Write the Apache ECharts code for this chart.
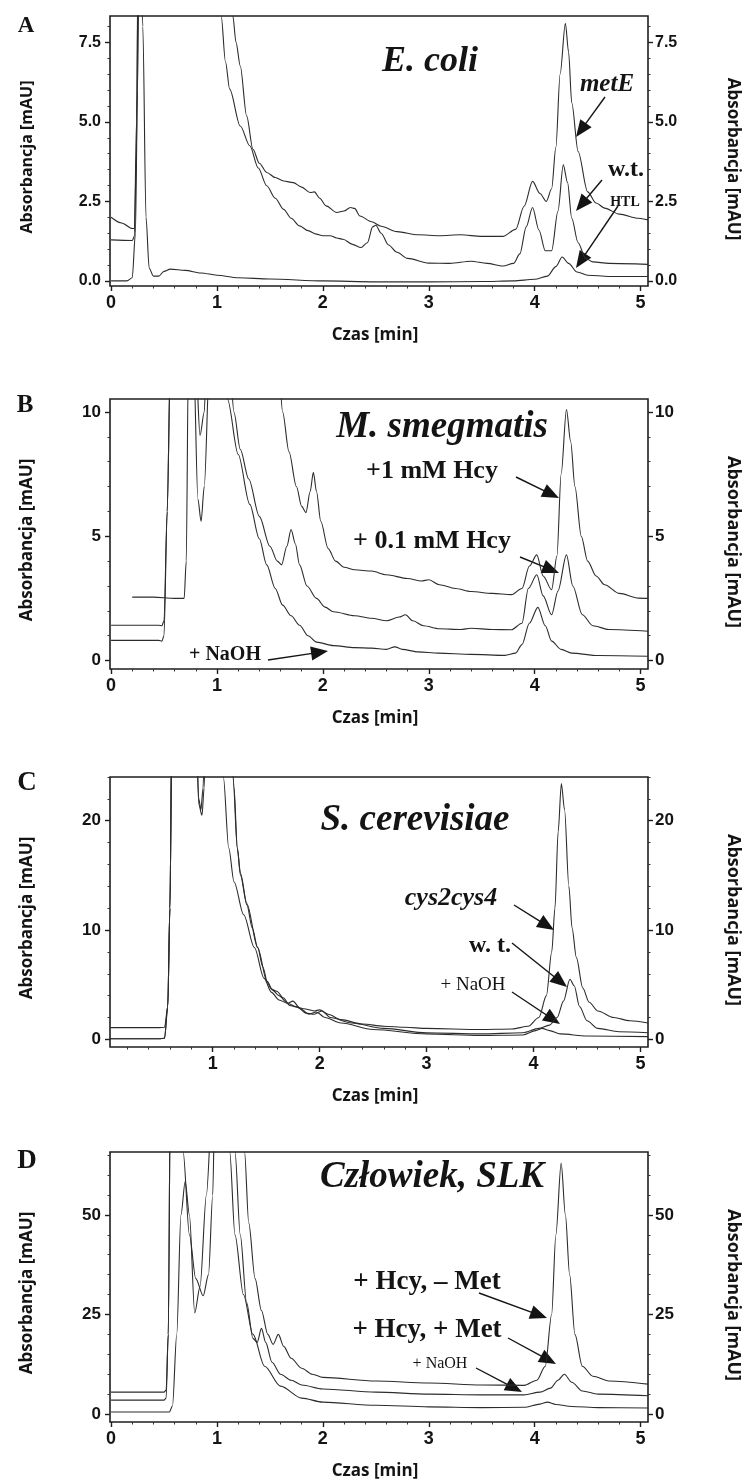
<!DOCTYPE html>
<html><head><meta charset="utf-8">
<script src="https://cdn.jsdelivr.net/npm/echarts@6/dist/echarts.min.js"></script>
<style>html,body{margin:0;padding:0;background:#fff}#c{width:744px;height:1484px}</style>
</head><body><div id="c"></div>
<script>
// ---------------- DATA (time [min], absorbance [mAU]) ----------------
// Panel A – E. coli
const ecoli_metE = [[0,2.0],[0.1,1.82],[0.2,1.65],[0.22,1.65],[0.24,4],[0.26,12],[1.1,12],[1.15,8.33],[1.18,7.5],[1.22,6.76],[1.28,5.19],[1.34,4.14],[1.4,3.7],[1.47,3.41],[1.55,3.25],[1.63,3.14],[1.72,3.09],[1.8,2.95],[1.88,2.78],[1.92,2.8],[1.97,2.6],[2.03,2.36],[2.13,2.15],[2.2,2.2],[2.26,2.31],[2.3,2.28],[2.35,2.04],[2.46,1.86],[2.55,1.72],[2.7,1.55],[2.9,1.45],[3.1,1.42],[3.3,1.45],[3.5,1.4],[3.7,1.4],[3.82,1.62],[3.9,2.35],[3.98,3.13],[4.05,2.75],[4.11,2.5],[4.16,2.9],[4.2,4.2],[4.24,6.5],[4.29,8.1],[4.32,7.2],[4.35,5.6],[4.41,4.07],[4.5,2.8],[4.58,2.45],[4.66,2.29],[4.8,2.1],[4.98,1.97],[5.07,1.92]];
const ecoli_wt = [[0,1.29],[0.2,1.27],[0.22,1.4],[0.24,5],[0.26,12],[1.0,12],[1.04,8.33],[1.08,6.9],[1.12,6.03],[1.22,4.87],[1.31,4.25],[1.39,3.55],[1.47,2.99],[1.55,2.6],[1.63,2.25],[1.7,1.97],[1.78,1.73],[1.86,1.58],[1.94,1.47],[2.0,1.42],[2.07,1.42],[2.13,1.35],[2.19,1.31],[2.28,1.15],[2.36,1.05],[2.42,1.2],[2.47,1.7],[2.5,1.75],[2.55,1.5],[2.62,1.13],[2.7,0.9],[2.8,0.71],[3.0,0.56],[3.2,0.55],[3.4,0.62],[3.55,0.55],[3.7,0.47],[3.8,0.55],[3.86,0.85],[3.92,1.7],[3.98,2.31],[4.04,1.6],[4.1,0.95],[4.16,0.95],[4.22,2.2],[4.27,3.65],[4.31,3.1],[4.35,1.97],[4.41,1.2],[4.48,0.71],[4.55,0.6],[4.7,0.55],[5.07,0.52]];
const ecoli_HTL = [[0,0.0],[0.15,0.0],[0.2,0.1],[0.23,1.5],[0.25,6],[0.27,12],[0.3,8],[0.33,2],[0.36,0.4],[0.4,0.15],[0.45,0.15],[0.5,0.3],[0.56,0.37],[0.7,0.33],[0.85,0.25],[1.0,0.18],[1.2,0.1],[1.5,0.06],[2.0,0.0],[2.5,-0.03],[3.0,-0.03],[3.5,-0.02],[3.8,0.0],[4.0,0.05],[4.12,0.15],[4.2,0.45],[4.26,0.75],[4.32,0.55],[4.4,0.28],[4.5,0.18],[4.7,0.14],[5.07,0.14]];
// Panel B – M. smegmatis
const smeg_1mM = [[0.2,2.55],[0.4,2.55],[0.6,2.5],[0.69,2.5],[0.71,4],[0.73,12],[1.58,12],[1.62,10.0],[1.68,8.4],[1.75,7.0],[1.8,6.2],[1.84,5.95],[1.88,6.8],[1.91,7.57],[1.94,6.8],[1.98,5.6],[2.05,4.5],[2.12,4.0],[2.2,3.75],[2.3,3.65],[2.46,3.6],[2.6,3.45],[2.8,3.3],[2.93,3.2],[3.0,3.25],[3.1,3.05],[3.25,2.9],[3.4,2.78],[3.6,2.7],[3.78,2.65],[3.88,2.9],[3.95,3.8],[4.02,4.25],[4.08,3.4],[4.16,2.85],[4.21,4.2],[4.25,7.5],[4.3,10.1],[4.34,8.8],[4.38,7.0],[4.44,5.0],[4.5,4.0],[4.58,3.4],[4.66,3.05],[4.8,2.7],[4.98,2.51],[5.07,2.5]];
const smeg_01mM = [[0,1.42],[0.45,1.42],[0.48,1.4],[0.5,1.6],[0.53,6],[0.56,12],[0.8,12],[0.84,9.05],[0.88,10],[0.9,12],[1.12,12],[1.16,10.0],[1.22,8.5],[1.3,7.3],[1.4,5.8],[1.5,4.6],[1.57,4.0],[1.61,3.85],[1.66,4.6],[1.7,5.27],[1.74,4.7],[1.78,3.85],[1.85,3.0],[1.94,2.5],[2.02,2.15],[2.1,1.96],[2.3,1.8],[2.46,1.7],[2.6,1.6],[2.72,1.75],[2.78,1.84],[2.85,1.6],[2.95,1.4],[3.1,1.28],[3.3,1.25],[3.4,1.3],[3.6,1.25],[3.78,1.24],[3.88,1.5],[3.94,2.9],[4.02,3.45],[4.08,2.6],[4.16,1.84],[4.22,2.8],[4.3,4.25],[4.36,3.0],[4.45,1.84],[4.55,1.4],[4.7,1.25],[5.07,1.18]];
const smeg_NaOH = [[0,0.81],[0.45,0.81],[0.48,0.78],[0.5,1.0],[0.53,6],[0.56,12],[0.78,12],[0.82,6.5],[0.85,5.6],[0.88,7],[0.93,12],[1.06,12],[1.1,10.5],[1.2,8.3],[1.31,6.28],[1.4,4.9],[1.47,3.85],[1.55,2.9],[1.62,2.23],[1.7,1.8],[1.78,1.42],[1.86,1.0],[1.94,0.74],[2.1,0.6],[2.3,0.52],[2.46,0.5],[2.6,0.45],[2.68,0.55],[2.75,0.45],[2.9,0.35],[3.09,0.3],[3.4,0.25],[3.72,0.21],[3.82,0.3],[3.88,0.64],[3.95,1.5],[4.03,2.14],[4.1,1.4],[4.16,0.78],[4.25,0.45],[4.35,0.3],[4.6,0.2],[5.07,0.17]];
// Panel C – S. cerevisiae
const cere_cys = [[0.04,1.07],[0.5,1.07],[0.55,1.1],[0.58,3],[0.6,12],[0.62,30],[0.84,30],[0.87,22],[0.89,21],[0.91,23],[0.93,30],[1.15,30],[1.19,24],[1.23,17.5],[1.26,15],[1.32,12.3],[1.37,10.2],[1.42,8.4],[1.47,6.6],[1.51,5.3],[1.56,4.5],[1.62,4.0],[1.7,3.3],[1.78,3.0],[1.85,2.8],[1.95,2.6],[2.0,2.7],[2.08,2.3],[2.2,1.8],[2.4,1.4],[2.6,1.2],[2.8,1.1],[3.0,1.0],[3.5,0.9],[3.8,0.95],[3.95,1.2],[4.05,2.0],[4.12,4.0],[4.17,8],[4.2,12],[4.23,19],[4.26,23.4],[4.29,21],[4.33,14],[4.36,10.2],[4.4,7.5],[4.46,4.7],[4.52,3.4],[4.6,2.6],[4.75,2.0],[4.9,1.7],[5.07,1.5]];
const cere_wt = [[0.04,0.05],[0.5,0.05],[0.55,0.1],[0.58,3],[0.6,12],[0.62,30],[0.84,30],[0.87,21.5],[0.9,20.5],[0.92,23],[0.94,30],[1.16,30],[1.2,23],[1.23,17.5],[1.26,15.2],[1.32,12.4],[1.42,8.4],[1.51,5.2],[1.55,4.6],[1.6,4.4],[1.66,3.8],[1.72,3.1],[1.8,2.9],[1.87,2.4],[1.95,2.3],[2.02,2.6],[2.1,2.0],[2.3,1.5],[2.6,1.0],[3.0,0.6],[3.5,0.5],[3.9,0.6],[4.05,1.0],[4.15,1.3],[4.22,2.0],[4.28,3.5],[4.34,5.5],[4.38,4.9],[4.43,3.0],[4.5,1.7],[4.6,1.0],[4.8,0.7],[5.07,0.6]];
const cere_NaOH = [[0.04,0.05],[0.5,0.05],[0.55,0.1],[0.58,3],[0.6,12],[0.62,30],[1.06,30],[1.1,24],[1.15,17.5],[1.2,14.4],[1.29,11.4],[1.39,8.4],[1.48,5.6],[1.55,4.3],[1.62,3.6],[1.7,3.3],[1.75,3.5],[1.82,2.8],[1.9,2.3],[1.97,2.5],[2.05,2.0],[2.2,1.5],[2.5,0.9],[3.0,0.5],[3.5,0.35],[3.9,0.4],[4.02,0.8],[4.08,1.0],[4.15,0.8],[4.25,0.5],[4.5,0.3],[5.07,0.25]];
// Panel D – Człowiek, SLK
const human_minusMet = [[0,5.5],[0.5,5.5],[0.52,6],[0.54,20],[0.56,80],[1.22,80],[1.26,66],[1.3,48],[1.36,34],[1.42,26],[1.48,20],[1.53,17.5],[1.58,20],[1.63,17],[1.7,14],[1.8,11.5],[1.9,10],[2.0,9.2],[2.5,8.3],[3.0,7.8],[3.5,7.3],[3.9,7.2],[4.02,8.5],[4.1,12],[4.16,25],[4.2,45],[4.25,63],[4.29,50],[4.33,35],[4.38,20],[4.45,12],[4.55,9.5],[4.7,8.3],[5.07,7.5]];
const human_plusMet = [[0,3.5],[0.5,3.5],[0.52,4],[0.54,20],[0.56,80],[0.65,80],[0.68,66],[0.74,45],[0.8,34],[0.87,29.7],[0.92,35],[0.96,55],[0.98,80],[1.13,80],[1.17,66],[1.22,45],[1.28,28],[1.34,19],[1.38,18],[1.42,21.5],[1.46,18],[1.52,13],[1.6,10],[1.7,8.5],[1.8,7.3],[2.0,6.3],[2.5,5.5],[3.0,5.0],[3.5,4.8],[3.9,4.8],[4.05,5.5],[4.15,6.5],[4.22,8.5],[4.28,10],[4.35,8],[4.45,5.8],[4.6,5.0],[5.07,4.6]];
const human_NaOH = [[0,0.5],[0.55,0.5],[0.58,2],[0.62,20],[0.66,50],[0.7,58.4],[0.74,50],[0.79,25.4],[0.84,32],[0.9,55],[0.96,80],[1.08,80],[1.12,66],[1.17,45],[1.25,30],[1.34,20],[1.45,12],[1.6,7],[1.8,4],[2.0,3],[2.5,2.2],[3.0,1.8],[3.5,1.6],[3.9,1.7],[4.05,2.5],[4.12,3.0],[4.2,2.4],[4.35,1.9],[4.6,1.6],[5.07,1.5]];

// tick labels
const xTicks = [0,1,2,3,4,5];
const xTicksC = [1,2,3,4,5];
const yTicksA = [0,2.5,5,7.5];
const yTicksB = [0,5,10];
const yTicksC = [0,10,20];
const yTicksD = [0,25,50];

// ---------------- STYLE / LAYOUT ----------------
const SANS = '"Liberation Sans", Arial, sans-serif';
const SERIF = '"Liberation Serif", "Times New Roman", serif';
const TITLE = '"Open Sans", sans-serif';
const INK = '#141414';
const TRACE = '#2c2c2c';

function minorList(min, max, step, majors) {
  const out = [];
  for (let v = Math.ceil(min / step) * step; v <= max + 1e-9; v += step) {
    const r = Math.round(v * 1000) / 1000;
    if (!majors.some(m => Math.abs(m - r) < 1e-6)) out.push(r);
  }
  return out;
}

const panels = [
  { top: 16, xmin: -0.01, xmax: 5.07, ymin: -0.16, ymax: 8.33, xt: xTicks, yt: yTicksA, ystep: 0.5, yfs: 16, fmt: v => v.toFixed(1), series: [ecoli_metE, ecoli_wt, ecoli_HTL] },
  { top: 399, xmin: -0.01, xmax: 5.07, ymin: -0.34, ymax: 10.52, xt: xTicks, yt: yTicksB, ystep: 1, yfs: 17, fmt: v => String(v), series: [smeg_1mM, smeg_01mM, smeg_NaOH] },
  { top: 777, xmin: 0.04, xmax: 5.07, ymin: -0.7, ymax: 24.0, xt: xTicksC, yt: yTicksC, ystep: 2, yfs: 17, fmt: v => String(v), series: [cere_cys, cere_wt, cere_NaOH] },
  { top: 1152, xmin: -0.01, xmax: 5.07, ymin: -2, ymax: 65.8, xt: xTicks, yt: yTicksD, ystep: 5, yfs: 17, fmt: v => String(v), series: [human_minusMet, human_plusMet, human_NaOH] }
];
const GRID_LEFT = 110, GRID_W = 538, GRID_H = 270;

const grid = [], xAxis = [], yAxis = [], series = [];
const noLine = { show: false, onZero: false };
const majorTickStyle = { color: '#1e1e1e', width: 1.4 };
const minorTickStyle = { color: '#333', width: 1 };

panels.forEach((p, i) => {
  grid.push({ left: GRID_LEFT, top: p.top, width: GRID_W, height: GRID_H, show: true, borderColor: '#1e1e1e', borderWidth: 1.6, backgroundColor: 'transparent', containLabel: false, outerBoundsMode: 'none' });
  const xMinor = minorList(Math.max(0, p.xmin), 5, 0.2, [0, 1, 2, 3, 4, 5]);
  xAxis.push({ gridIndex: i, type: 'value', min: p.xmin, max: p.xmax, position: 'bottom', axisLine: noLine, splitLine: { show: false },
    axisTick: { show: true, customValues: p.xt, length: 5, lineStyle: majorTickStyle },
    axisLabel: { show: true, customValues: p.xt, margin: 8, color: INK, fontFamily: SANS, fontWeight: 'bold', fontSize: 18, formatter: v => String(v) } });
  xAxis.push({ gridIndex: i, type: 'value', min: p.xmin, max: p.xmax, position: 'bottom', axisLine: noLine, splitLine: { show: false },
    axisTick: { show: true, customValues: xMinor, length: 2.5, lineStyle: minorTickStyle }, axisLabel: { show: false } });
  const yMinor = minorList(0, p.ymax, p.ystep, p.yt);
  ['left', 'right'].forEach(side => {
    yAxis.push({ gridIndex: i, type: 'value', min: p.ymin, max: p.ymax, position: side, axisLine: noLine, splitLine: { show: false },
      axisTick: { show: true, customValues: p.yt, length: 5, lineStyle: majorTickStyle },
      axisLabel: { show: true, customValues: p.yt, margin: side === 'left' ? 9 : 7, color: INK, fontFamily: SANS, fontWeight: 'bold', fontSize: p.yfs, formatter: p.fmt } });
    yAxis.push({ gridIndex: i, type: 'value', min: p.ymin, max: p.ymax, position: side, axisLine: noLine, splitLine: { show: false },
      axisTick: { show: true, customValues: yMinor, length: 2.5, lineStyle: minorTickStyle }, axisLabel: { show: false } });
  });
  p.series.forEach(d => {
    series.push({ type: 'line', xAxisIndex: 2 * i, yAxisIndex: 4 * i, data: d, symbol: 'none', showSymbol: false,
      smooth: 0.3, smoothMonotone: 'x', clip: true, silent: true,
      lineStyle: { color: TRACE, width: 1.1 } });
  });
});

// ---------------- ANNOTATIONS ----------------
const graphic = [];
function txt(x, y, text, o) {
  graphic.push({ type: 'text', x, y, rotation: o.rot || 0, silent: true,
    style: { text, fill: INK, align: 'center', verticalAlign: 'middle',
      fontFamily: o.ff || SERIF, fontSize: o.fs, fontWeight: o.fw || 'bold', fontStyle: o.it ? 'italic' : 'normal' } });
}
function arrow(x1, y1, x2, y2) {
  const dx = x2 - x1, dy = y2 - y1, L = Math.hypot(dx, dy), ux = dx / L, uy = dy / L;
  const hl = 17, hw = 7, bx = x2 - ux * hl, by = y2 - uy * hl, nx = -uy, ny = ux;
  graphic.push({ type: 'line', silent: true, shape: { x1, y1, x2: bx + ux * 3, y2: by + uy * 3 }, style: { stroke: INK, lineWidth: 1.4 } });
  graphic.push({ type: 'polygon', silent: true, shape: { points: [[x2, y2], [bx + nx * hw, by + ny * hw], [bx - nx * hw, by - ny * hw]] }, style: { fill: INK } });
}

// axis titles
const tops = panels.map(p => p.top);
tops.forEach((t, i) => {
  const mid = t + GRID_H / 2;
  txt(27, mid + 6, 'Absorbancja [mAU]', { ff: TITLE, fs: i === 0 ? 16 : 17, rot: Math.PI / 2 });
  txt(733, mid + 8, 'Absorbancja [mAU]', { ff: TITLE, fs: i === 0 ? 17 : 18, rot: -Math.PI / 2 });
  txt(375, t + GRID_H + 49, 'Czas [min]', { ff: TITLE, fs: 17 });
});
// panel letters
txt(26, 26, 'A', { fs: 23 }); txt(25, 406, 'B', { fs: 25 }); txt(27, 783, 'C', { fs: 27 }); txt(27, 1161, 'D', { fs: 27 });
// A
txt(430, 62, 'E. coli', { fs: 36, it: true });
txt(607, 85, 'metE', { fs: 25, it: true });
txt(626, 170, 'w.t.', { fs: 24 });
txt(625, 202, 'HTL', { fs: 14 });
arrow(605, 97, 576, 137); arrow(602, 180, 576, 211); arrow(618, 206, 576, 268);
// B
txt(442, 427, 'M. smegmatis', { fs: 37, it: true });
txt(432, 471, '+1 mM Hcy', { fs: 26 });
txt(432, 541, '+ 0.1 mM Hcy', { fs: 26 });
txt(225, 655, '+ NaOH', { fs: 20 });
arrow(268, 660, 328, 651); arrow(516, 477, 559, 498); arrow(520, 557, 559, 573);
// C
txt(415, 820, 'S. cerevisiae', { fs: 37, it: true });
txt(451, 898, 'cys2cys4', { fs: 26, it: true });
txt(490, 946, 'w. t.', { fs: 24 });
txt(473, 985, '+ NaOH', { fs: 19, fw: 'normal' });
arrow(514, 905, 554, 930); arrow(512, 943, 567, 987); arrow(512, 992, 560, 1024);
// D
txt(432, 1177, 'Człowiek, SLK', { fs: 37, it: true });
txt(427, 1282, '+ Hcy, – Met', { fs: 27 });
txt(427, 1330, '+ Hcy, + Met', { fs: 27 });
txt(440, 1364, '+ NaOH', { fs: 16, fw: 'normal' });
arrow(479, 1293, 547, 1318); arrow(508, 1338, 556, 1364); arrow(476, 1368, 522, 1392);

const chart = echarts.init(document.getElementById('c'), null, { renderer: 'canvas' });
chart.setOption({ animation: false, backgroundColor: '#fff', grid, xAxis, yAxis, series, graphic });
</script></body></html>
